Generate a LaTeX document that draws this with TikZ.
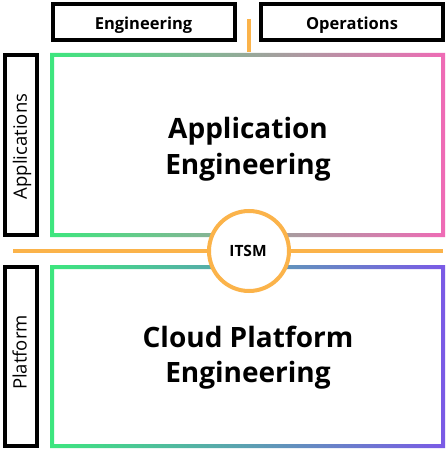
\documentclass[tikz,border=0pt]{standalone}
\usepackage{fontspec}
\setmainfont{Open Sans}
\definecolor{grn}{HTML}{3DE67E}
\definecolor{pnk}{HTML}{EF6BB5}
\definecolor{prp}{HTML}{7A5AE6}
\definecolor{org}{HTML}{FBB34A}
\begin{document}
\begin{tikzpicture}[x=1pt,y=-1pt,
  blackbox/.style={draw=black,line width=4pt,inner sep=0pt},
  orgline/.style={draw=org,line width=4pt},
  toplabel/.style={anchor=base,inner sep=0pt,font=\bfseries\fontsize{16.5}{19}\selectfont},
  sidelabel/.style={anchor=base,inner sep=0pt,rotate=90,font=\fontsize{18.5}{21}\selectfont},
  title/.style={anchor=base,inner sep=0pt,font=\bfseries\fontsize{28}{34}\selectfont}]
\useasboundingbox[fill=white] (0,0) rectangle (447,452);
% top label boxes
\node[blackbox,minimum width=182pt,minimum height=36pt] (eng) at (143.5,22) {};
\node[blackbox,minimum width=182pt,minimum height=36pt] (ops) at (352,22) {};
\node[toplabel] (engtxt) at (143.5,30) {Engineering};
\node[toplabel] (opstxt) at (352,30) {Operations};
% side label boxes
\node[blackbox,minimum width=180pt,minimum height=32pt,rotate=90] (apps) at (21,145) {};
\node[blackbox,minimum width=179pt,minimum height=32pt,rotate=90] (plat) at (21,356.5) {};
\node[sidelabel] (appstxt) at (27,146.5) {Applications};
\node[sidelabel] (plattxt) at (26.5,352.5) {Platform};
% orange lines
\coordinate (tickt) at (249,19);
\coordinate (tickb) at (249,52);
\coordinate (hl) at (13,251);
\coordinate (hr) at (443,251);
\draw[orgline] (tickt) -- (tickb);
\draw[orgline] (hl) -- (hr);
% gradient frames
\shade[left color=grn,right color=pnk,even odd rule] (50,53) rectangle (445,237) (54,57) rectangle (441,233);
\shade[left color=grn,right color=prp,even odd rule] (50,265) rectangle (445,448) (54,269) rectangle (441,444);
\node[title] (appeng1) at (248,138) {Application};
\node[title] (appeng2) at (248,174) {Engineering};
\node[title] (cloud1) at (248,347) {Cloud Platform};
\node[title] (cloud2) at (248,382) {Engineering};
% ITSM circle
\node[circle,draw=org,fill=white,line width=4pt,minimum size=80pt,inner sep=0pt] (itsm) at (249,251) {};
\node[anchor=base,inner sep=0pt,font=\bfseries\fontsize{15.5}{18}\selectfont] (itsmtxt) at (248,256.5) {ITSM};
\end{tikzpicture}
\end{document}
